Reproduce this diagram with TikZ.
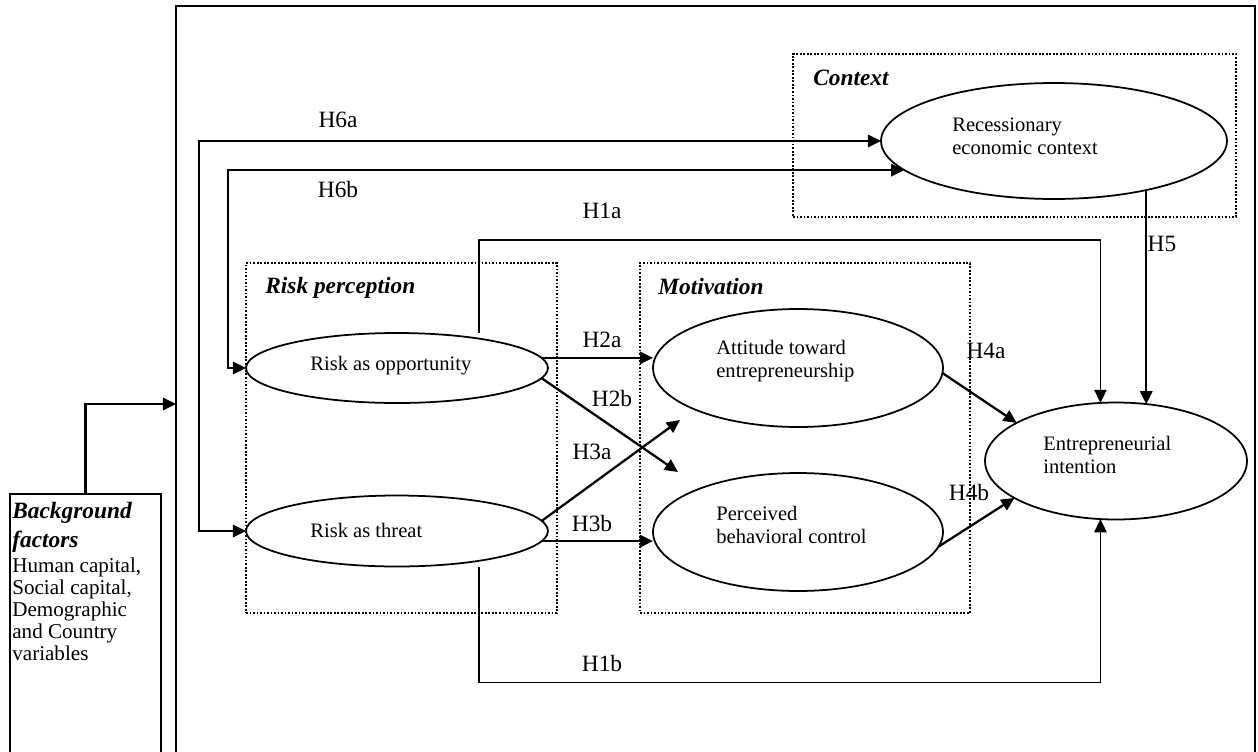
\documentclass[tikz,border=0pt]{standalone}
\usepackage{fontspec}
\setmainfont{Liberation Serif}
\usetikzlibrary{shapes.geometric,arrows.meta,calc}
\newcommand{\bgbold}{\fontsize{13.3}{14.5}\selectfont\bfseries\itshape}
\newcommand{\bgreg}{\fontsize{12}{12.5}\selectfont\normalfont}
\begin{document}
\begin{tikzpicture}[x=0.02cm,y=-0.02cm,
  ell/.style={ellipse,draw,line width=1pt,inner sep=0pt,outer sep=0pt},
  etext/.style={anchor=west,align=left,inner sep=0pt,font=\fontsize{11.7}{13}\selectfont},
  hlab/.style={inner sep=0pt,font=\fontsize{13.3}{15}\selectfont},
  head/.style={anchor=west,inner sep=0pt,font=\fontsize{13.3}{15}\selectfont\bfseries\itshape},
  dotbox/.style={draw,anchor=north west,line width=1pt,dash pattern=on 1pt off 1pt,inner sep=0pt,outer sep=0pt},
  conn/.style={line width=1.3pt,-{Triangle[length=7.5pt,width=7pt]}},
  thin/.style={line width=0.9pt,-{Triangle[length=7.5pt,width=7pt]}},
  both/.style={line width=1.3pt,{Triangle[length=7.5pt,width=7pt]}-{Triangle[length=7.5pt,width=7pt]}}
]
\useasboundingbox (0,0) rectangle (1258,751);

% frames
\node[draw,line width=0.8pt,anchor=north west,minimum width=21.58cm,minimum height=16cm,inner sep=0pt,outer sep=0pt] (frame) at (176,6) {};
\node[draw,line width=1pt,anchor=north west,minimum width=3.02cm,minimum height=6cm,inner sep=0pt,outer sep=0pt] (bg) at (10,494) {};
\node[anchor=north west,inner sep=0pt,font=\bgreg] (bgtext) at (12,502) {%
  \begin{tabular}{@{}l@{}}
  \bgbold Background\\[3.5pt]
  \bgbold factors\\[1.5pt]
  \bgreg Human capital,\\
  \bgreg Social capital,\\
  \bgreg Demographic\\
  \bgreg and Country\\
  \bgreg variables
  \end{tabular}};

% dotted groups
\node[dotbox,minimum width=8.86cm,minimum height=3.26cm] (ctxbox) at (793,54) {};
\node[dotbox,minimum width=6.22cm,minimum height=7cm] (rpbox) at (246,263) {};
\node[dotbox,minimum width=6.6cm,minimum height=7cm] (motbox) at (640,263) {};
\node[head] (ctxlab) at (813,78) {Context};
\node[head] (rplab) at (265,288) {Risk perception};
\node[head] (motlab) at (658,287) {Motivation};

% ellipses
\node[ell,minimum width=6.92cm,minimum height=2.32cm] (rec) at (1054,141) {};
\node[ell,minimum width=6.04cm,minimum height=1.4cm] (opp) at (397,368) {};
\node[ell,minimum width=6.04cm,minimum height=1.42cm] (thr) at (397,531) {};
\node[ell,minimum width=5.8cm,minimum height=2.36cm] (att) at (798,368) {};
\node[ell,minimum width=5.8cm,minimum height=2.36cm] (pbc) at (798,532) {};
\node[ell,minimum width=5.24cm,minimum height=2.34cm] (ent) at (1116,461) {};

\node[etext] (rect) at (952,136) {Recessionary\\economic context};
\node[etext] (oppt) at (310,366) {Risk as opportunity};
\node[etext] (thrt) at (310,530) {Risk as threat};
\node[etext] (attt) at (716,361) {Attitude toward\\entrepreneurship};
\node[etext] (pbct) at (716,525) {Perceived\\behavioral control};
\node[etext] (entt) at (1043,455) {Entrepreneurial\\intention};

% coordinates
\coordinate (fin) at (176,404);
\coordinate (h1as) at ($(opp.north)+(82,0)$);
\coordinate (h1bs) at ($(thr.south)+(82,0)$);
\coordinate (h2bend) at (678,472);
\coordinate (h3aend) at (680,420);

% connectors
\draw[conn] (bg.north) |- (fin);
\draw[both] (thr.west) -- ++(-47,0) |- (rec.west);
\draw[both] (opp.west) -- ++(-18,0) |- (rec.191);
\draw[thin] (h1as) -- ++(0,-93) -| (ent.105);
\draw[thin] (h1bs) -- ++(0,116) -| (ent.-105);
\draw[conn] (rec.-28) -- (rec.-28 |- ent.61);
\draw[conn] (opp.4) -- (opp.4 -| att.west);
\draw[conn] (opp.-4) -- (h2bend);
\draw[conn] (thr.4) -- (h3aend);
\draw[conn] (thr.-4) -- (thr.-4 -| pbc.west);
\draw[conn] (att.-2) -- (ent.159);
\draw[conn] (pbc.-6) -- (ent.200);

% labels
\node[hlab] (l6a) at (338,120) {H6a};
\node[hlab] (l6b) at (338,190) {H6b};
\node[hlab] (l1a) at (602,211) {H1a};
\node[hlab] (l2a) at (602,340) {H2a};
\node[hlab] (l2b) at (612,398) {H2b};
\node[hlab] (l3a) at (592,452) {H3a};
\node[hlab] (l3b) at (592,523) {H3b};
\node[hlab] (l1b) at (602,663) {H1b};
\node[hlab] (l4a) at (986,351) {H4a};
\node[hlab] (l4b) at (969,492) {H4b};
\node[hlab] (l5) at (1162,244) {H5};
\end{tikzpicture}
\end{document}
